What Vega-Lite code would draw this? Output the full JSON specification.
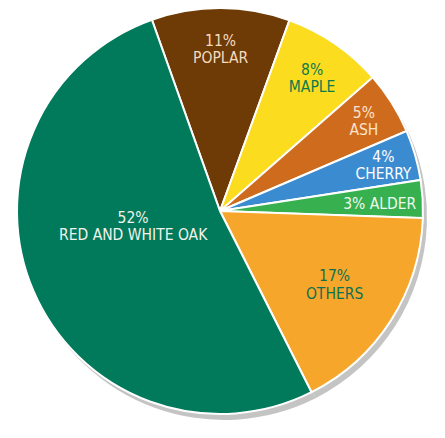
{
  "$schema": "https://vega.github.io/schema/vega-lite/v6.json",
  "width": 445,
  "height": 438,
  "autosize": {"type": "fit", "contains": "padding"},
  "padding": {"left": 0, "right": 5, "top": 0, "bottom": 16},
  "background": "white",
  "view": {"stroke": null},
  "data": {
    "values": [
      {"wood": "Poplar", "k": 1, "pct": 11, "label": "11%\nPOPLAR"},
      {"wood": "Maple", "k": 2, "pct": 8, "label": "8%\nMAPLE"},
      {"wood": "Ash", "k": 3, "pct": 5, "label": "5%\nASH"},
      {"wood": "Cherry", "k": 4, "pct": 4, "label": "4%\nCHERRY"},
      {"wood": "Alder", "k": 5, "pct": 3, "label": "3%  ALDER"},
      {"wood": "Others", "k": 6, "pct": 17, "label": "17%\nOTHERS"},
      {"wood": "Oak", "k": 7, "pct": 52, "label": "52%\nRED AND WHITE OAK"}
    ]
  },
  "transform": [
    {"stack": "pct", "groupby": [], "sort": [{"field": "k", "order": "ascending"}], "as": ["s0", "s1"]},
    {"calculate": "(datum.s0 + datum.s1) / 2", "as": "mid"}
  ],
  "layer": [
    {
      "mark": {"type": "arc", "outerRadius": 203, "xOffset": 4, "yOffset": 6, "color": "#c4c4c4", "stroke": null},
      "encoding": {
        "theta": {"field": "s0", "type": "quantitative", "scale": {"domain": [0, 100], "range": [-0.342, 5.941]}},
        "theta2": {"field": "s1"}
      }
    },
    {
      "mark": {"type": "arc", "outerRadius": 203, "stroke": "white", "strokeWidth": 2},
      "encoding": {
        "theta": {"field": "s0", "type": "quantitative", "scale": {"domain": [0, 100], "range": [-0.342, 5.941]}},
        "theta2": {"field": "s1"},
        "color": {
          "field": "wood", "type": "nominal", "legend": null,
          "scale": {
            "domain": ["Poplar", "Maple", "Ash", "Cherry", "Alder", "Others", "Oak"],
            "range": ["#6e3a05", "#fbdc1e", "#cf6b1d", "#3b8bd0", "#37b04f", "#f6a72b", "#007a5a"]
          }
        }
      }
    },
    {
      "transform": [{"filter": "datum.wood == 'Poplar' || datum.wood == 'Maple'"}],
      "mark": {"type": "text", "radius": 163, "lineBreak": "\n", "font": "DejaVu Sans Condensed, Liberation Sans Narrow, sans-serif", "fontSize": 15.5, "lineHeight": 17, "align": "center", "baseline": "middle", "dy": -7},
      "encoding": {
        "theta": {"field": "mid", "type": "quantitative", "scale": {"domain": [0, 100], "range": [-0.342, 5.941]}},
        "text": {"field": "label"},
        "color": {"field": "wood", "type": "nominal", "legend": null, "scale": {"domain": ["Poplar", "Maple", "Ash", "Cherry", "Alder", "Others", "Oak"], "range": ["#f3dcc0", "#0b7a4e", "#fbe3cc", "#ffffff", "#eef8ee", "#0e7050", "#f2f2ec"]}}
      }
    },
    {
      "transform": [{"filter": "datum.wood == 'Ash' || datum.wood == 'Cherry'"}],
      "mark": {"type": "text", "radius": 170, "lineBreak": "\n", "font": "DejaVu Sans Condensed, Liberation Sans Narrow, sans-serif", "fontSize": 15.5, "lineHeight": 17, "align": "center", "baseline": "middle", "dy": -7},
      "encoding": {
        "theta": {"field": "mid", "type": "quantitative", "scale": {"domain": [0, 100], "range": [-0.342, 5.941]}},
        "text": {"field": "label"},
        "color": {"field": "wood", "type": "nominal", "legend": null, "scale": {"domain": ["Poplar", "Maple", "Ash", "Cherry", "Alder", "Others", "Oak"], "range": ["#f3dcc0", "#0b7a4e", "#fbe3cc", "#ffffff", "#eef8ee", "#0e7050", "#f2f2ec"]}}
      }
    },
    {
      "transform": [{"filter": "datum.wood == 'Alder'"}],
      "mark": {"type": "text", "radius": 160, "font": "DejaVu Sans Condensed, Liberation Sans Narrow, sans-serif", "fontSize": 15.5, "align": "center", "baseline": "middle", "dy": 2},
      "encoding": {
        "theta": {"field": "mid", "type": "quantitative", "scale": {"domain": [0, 100], "range": [-0.342, 5.941]}},
        "text": {"field": "label"},
        "color": {"field": "wood", "type": "nominal", "legend": null, "scale": {"domain": ["Poplar", "Maple", "Ash", "Cherry", "Alder", "Others", "Oak"], "range": ["#f3dcc0", "#0b7a4e", "#fbe3cc", "#ffffff", "#eef8ee", "#0e7050", "#f2f2ec"]}}
      }
    },
    {
      "transform": [{"filter": "datum.wood == 'Others'"}],
      "mark": {"type": "text", "radius": 136, "lineBreak": "\n", "font": "DejaVu Sans Condensed, Liberation Sans Narrow, sans-serif", "fontSize": 15.5, "lineHeight": 18, "align": "center", "baseline": "middle", "dy": -8},
      "encoding": {
        "theta": {"field": "mid", "type": "quantitative", "scale": {"domain": [0, 100], "range": [-0.342, 5.941]}},
        "text": {"field": "label"},
        "color": {"field": "wood", "type": "nominal", "legend": null, "scale": {"domain": ["Poplar", "Maple", "Ash", "Cherry", "Alder", "Others", "Oak"], "range": ["#f3dcc0", "#0b7a4e", "#fbe3cc", "#ffffff", "#eef8ee", "#0e7050", "#f2f2ec"]}}
      }
    },
    {
      "transform": [{"filter": "datum.wood == 'Oak'"}],
      "mark": {"type": "text", "radius": 88, "lineBreak": "\n", "font": "DejaVu Sans Condensed, Liberation Sans Narrow, sans-serif", "fontSize": 15.5, "lineHeight": 17, "align": "center", "baseline": "middle", "dx": -6, "dy": -28},
      "encoding": {
        "theta": {"field": "mid", "type": "quantitative", "scale": {"domain": [0, 100], "range": [-0.342, 5.941]}},
        "text": {"field": "label"},
        "color": {"field": "wood", "type": "nominal", "legend": null, "scale": {"domain": ["Poplar", "Maple", "Ash", "Cherry", "Alder", "Others", "Oak"], "range": ["#f3dcc0", "#0b7a4e", "#fbe3cc", "#ffffff", "#eef8ee", "#0e7050", "#f2f2ec"]}}
      }
    }
  ],
  "resolve": {"scale": {"color": "independent"}}
}
